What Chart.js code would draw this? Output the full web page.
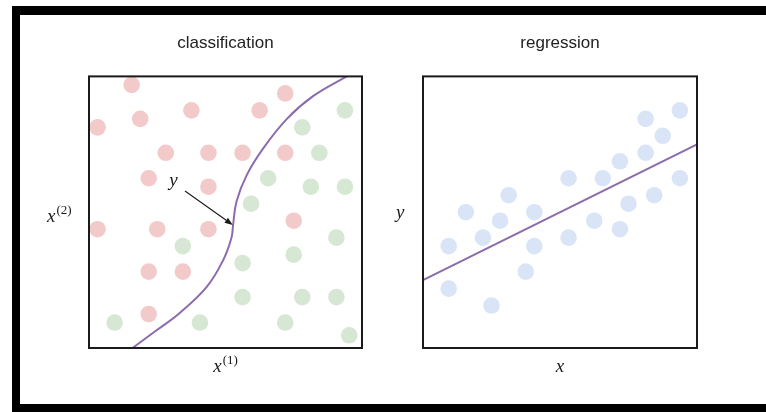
<!DOCTYPE html>
<html>
<head>
<meta charset="utf-8">
<script src="https://cdn.jsdelivr.net/npm/chart.js@4.4.1/dist/chart.umd.min.js"></script>
<style>
  html, body { margin: 0; padding: 0; background: #fff; overflow: hidden; width: 766px; height: 412px; }
  #frame { position: absolute; left: 12px; top: 6px; width: 800px; height: 406px; box-sizing: border-box;
           border: 8px solid #000; border-top-width: 9px; }
  canvas { position: absolute; left: 0; top: 0; }
</style>
</head>
<body>
<div id="frame"></div>
<canvas id="cls" width="766" height="412"></canvas>
<canvas id="reg" width="766" height="412"></canvas>
<script>
// ---- data (both panels use a 0..32 feature grid) ----
const panelTitles = ['classification', 'regression'];

// class on the left/top side of the decision boundary
const classRed = [
  {x: 5, y: 31}, {x: 6, y: 27}, {x: 1, y: 26}, {x: 12, y: 28}, {x: 20, y: 28}, {x: 23, y: 30},
  {x: 9, y: 23}, {x: 14, y: 23}, {x: 18, y: 23}, {x: 23, y: 23}, {x: 7, y: 20}, {x: 14, y: 19},
  {x: 1, y: 14}, {x: 8, y: 14}, {x: 14, y: 14}, {x: 24, y: 15}, {x: 7, y: 9}, {x: 11, y: 9},
  {x: 7, y: 4}
];

// class on the right/bottom side
const classGreen = [
  {x: 30, y: 28}, {x: 25, y: 26}, {x: 27, y: 23}, {x: 21, y: 20}, {x: 26, y: 19}, {x: 30, y: 19},
  {x: 19, y: 17}, {x: 29, y: 13}, {x: 11, y: 12}, {x: 24, y: 11}, {x: 18, y: 10}, {x: 18, y: 6},
  {x: 25, y: 6}, {x: 29, y: 6}, {x: 3, y: 3}, {x: 13, y: 3}, {x: 23, y: 3}, {x: 30.5, y: 1.5}
];

// decision boundary y, read along its length
const boundary = [
  {x: 5.1, y: 0}, {x: 7.8, y: 2}, {x: 10.6, y: 4.1}, {x: 13.8, y: 7.2}, {x: 15.7, y: 10.3},
  {x: 16.7, y: 13.0}, {x: 16.9, y: 14.6}, {x: 17.3, y: 17.3}, {x: 18.5, y: 20.4},
  {x: 20.4, y: 23.5}, {x: 23.2, y: 27.0}, {x: 26.3, y: 29.7}, {x: 30.2, y: 32}
];

// annotation: label "y" with an arrow pointing at the boundary
const arrowFrom = [11.25, 18.5];
const arrowTo = [16.85, 14.5];
const arrowLabelAt = [9.9, 19.6];

// regression samples and fitted line
const regPoints = [
  {x: 3, y: 12}, {x: 3, y: 7}, {x: 5, y: 16}, {x: 7, y: 13}, {x: 8, y: 5}, {x: 9, y: 15},
  {x: 10, y: 18}, {x: 12, y: 9}, {x: 13, y: 16}, {x: 13, y: 12}, {x: 17, y: 20}, {x: 17, y: 13},
  {x: 20, y: 15}, {x: 21, y: 20}, {x: 23, y: 22}, {x: 23, y: 14}, {x: 24, y: 17}, {x: 26, y: 27},
  {x: 26, y: 23}, {x: 27, y: 18}, {x: 28, y: 25}, {x: 30, y: 28}, {x: 30, y: 20}
];
const fitLine = [{x: 0, y: 8}, {x: 32, y: 24}];

const axisMin = 0, axisMax = 32;

// ---- styling ----
const PURPLE = '#8c6cae';
const INK = '#1a1a1a';
const SERIF = '"Liberation Serif", "DejaVu Serif", serif';

Chart.defaults.font.family = '"Liberation Sans", Arial, sans-serif';

// square frame around the plotting area
const panelBox = {
  id: 'panelBox',
  afterDatasetsDraw(chart) {
    const {ctx, chartArea: a} = chart;
    ctx.save();
    ctx.strokeStyle = INK;
    ctx.lineWidth = 2;
    ctx.strokeRect(a.left, a.top, a.right - a.left, a.bottom - a.top);
    ctx.restore();
  }
};

// italic math symbol with an optional upright superscript
function mathText(ctx, base, sup, x, y, align) {
  ctx.save();
  ctx.fillStyle = INK;
  ctx.textBaseline = 'alphabetic';
  ctx.textAlign = 'left';
  const baseFont = 'italic 19px ' + SERIF;
  const supFont = '13px ' + SERIF;
  ctx.font = baseFont;
  const wb = ctx.measureText(base).width;
  let ws = 0;
  if (sup) { ctx.font = supFont; ws = ctx.measureText(sup).width + 1; }
  let left = x;
  if (align === 'center') left = x - (wb + ws) / 2;
  ctx.font = baseFont;
  ctx.fillText(base, left, y);
  if (sup) {
    ctx.font = supFont;
    ctx.fillText(sup, left + wb + 1, y - 8);
  }
  ctx.restore();
}

// axis names and the arrow annotation for each panel
const mathLabels = {
  id: 'mathLabels',
  afterDraw(chart, args, opts) {
    const {ctx, chartArea: a, scales} = chart;
    const midY = (a.top + a.bottom) / 2;
    const midX = (a.left + a.right) / 2;
    const xl = opts.xLabel, yl = opts.yLabel;
    mathText(ctx, xl[0], xl[1], midX, a.bottom + 24, 'center');
    mathText(ctx, yl[0], yl[1], a.left + opts.yLabelDx, midY + opts.yLabelDy, 'left');

    if (opts.arrow) {
      const x0 = scales.x.getPixelForValue(arrowFrom[0]);
      const y0 = scales.y.getPixelForValue(arrowFrom[1]);
      const x1 = scales.x.getPixelForValue(arrowTo[0]);
      const y1 = scales.y.getPixelForValue(arrowTo[1]);
      const ang = Math.atan2(y1 - y0, x1 - x0);
      const head = 8, half = 3;
      ctx.save();
      ctx.strokeStyle = INK;
      ctx.fillStyle = INK;
      ctx.lineWidth = 1.1;
      ctx.beginPath();
      ctx.moveTo(x0, y0);
      ctx.lineTo(x1 - head * Math.cos(ang), y1 - head * Math.sin(ang));
      ctx.stroke();
      ctx.beginPath();
      ctx.moveTo(x1, y1);
      ctx.lineTo(x1 - head * Math.cos(ang) + half * Math.sin(ang), y1 - head * Math.sin(ang) - half * Math.cos(ang));
      ctx.lineTo(x1 - head * Math.cos(ang) - half * Math.sin(ang), y1 - head * Math.sin(ang) + half * Math.cos(ang));
      ctx.closePath();
      ctx.fill();
      ctx.restore();
      const lx = scales.x.getPixelForValue(arrowLabelAt[0]);
      const ly = scales.y.getPixelForValue(arrowLabelAt[1]);
      mathText(ctx, 'y', '', lx, ly + 4, 'center');
    }
  }
};

function hiddenScales() {
  return {
    x: {type: 'linear', min: axisMin, max: axisMax, display: false},
    y: {type: 'linear', min: axisMin, max: axisMax, display: false}
  };
}

function titleOpts(text) {
  return {
    display: true,
    text: text,
    color: '#222',
    font: {size: 17, weight: 'normal'},
    padding: {top: 33, bottom: 23}
  };
}

const pointStyle = (color) => ({
  pointRadius: 8.3,
  pointHoverRadius: 8.3,
  backgroundColor: color,
  borderWidth: 0,
  showLine: false
});

new Chart(document.getElementById('cls'), {
  type: 'scatter',
  data: {
    datasets: [
      Object.assign({data: classRed}, pointStyle('#f2caca')),
      Object.assign({data: classGreen}, pointStyle('#d6e7d3')),
      {
        data: boundary, showLine: true, tension: 0.4, pointRadius: 0,
        borderColor: PURPLE, borderWidth: 2, backgroundColor: PURPLE
      }
    ]
  },
  options: {
    responsive: false,
    animation: false,
    events: [],
    layout: {padding: {left: 89, right: 404, top: 0, bottom: 64}},
    scales: hiddenScales(),
    plugins: {
      legend: {display: false},
      tooltip: {enabled: false},
      title: titleOpts(panelTitles[0]),
      mathLabels: {xLabel: ['x', '(1)'], yLabel: ['x', '(2)'], yLabelDx: -42, yLabelDy: 10, arrow: true}
    }
  },
  plugins: [panelBox, mathLabels]
});

new Chart(document.getElementById('reg'), {
  type: 'scatter',
  data: {
    datasets: [
      Object.assign({data: regPoints}, pointStyle('#d9e5f7')),
      {
        data: fitLine, showLine: true, pointRadius: 0,
        borderColor: PURPLE, borderWidth: 2, backgroundColor: PURPLE
      }
    ]
  },
  options: {
    responsive: false,
    animation: false,
    events: [],
    layout: {padding: {left: 423, right: 69, top: 0, bottom: 64}},
    scales: hiddenScales(),
    plugins: {
      legend: {display: false},
      tooltip: {enabled: false},
      title: titleOpts(panelTitles[1]),
      mathLabels: {xLabel: ['x', ''], yLabel: ['y', ''], yLabelDx: -27, yLabelDy: 6, arrow: false}
    }
  },
  plugins: [panelBox, mathLabels]
});
</script>
</body>
</html>
